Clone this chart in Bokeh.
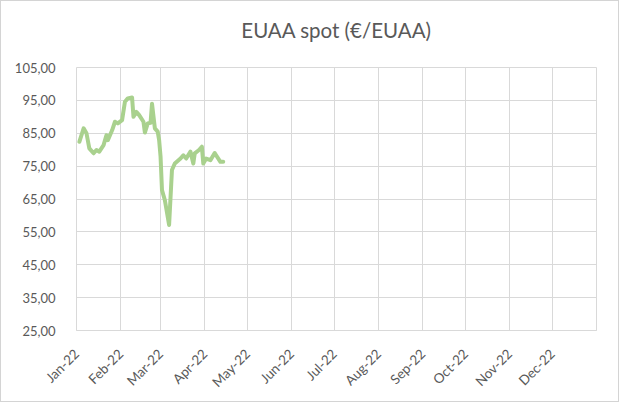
import math
from datetime import datetime
from bokeh.plotting import figure
from bokeh.models import FixedTicker, CustomJSTickFormatter, Range1d, ColumnDataSource
from bokeh.embed import file_html
from bokeh.resources import INLINE

# --- data ---
dates = ["2022-01-03", "2022-01-06", "2022-01-08", "2022-01-10", "2022-01-13", "2022-01-15",
         "2022-01-17", "2022-01-20", "2022-01-22", "2022-01-23", "2022-01-26", "2022-01-28",
         "2022-01-30", "2022-02-02", "2022-02-04", "2022-02-06", "2022-02-09", "2022-02-10",
         "2022-02-12", "2022-02-14", "2022-02-17", "2022-02-18", "2022-02-20", "2022-02-22",
         "2022-02-23", "2022-02-25", "2022-02-27", "2022-02-28", "2022-03-01", "2022-03-02",
         "2022-03-04", "2022-03-07", "2022-03-09", "2022-03-11", "2022-03-15", "2022-03-17",
         "2022-03-19", "2022-03-22", "2022-03-24", "2022-03-25", "2022-03-28", "2022-03-30",
         "2022-03-31", "2022-04-02", "2022-04-05", "2022-04-08", "2022-04-09", "2022-04-12",
         "2022-04-14"]
prices = [82.4, 86.5, 85.0, 80.4, 78.9, 79.9,
          79.4, 81.4, 84.4, 82.9, 85.9, 88.5,
          88.0, 89.0, 94.6, 95.6, 95.9, 90.0,
          91.5, 90.5, 88.5, 85.2, 88.0, 88.2,
          94.0, 86.5, 85.5, 82.9, 77.9, 67.7,
          64.7, 57.1, 73.8, 75.8, 77.3, 78.3,
          77.3, 79.4, 75.8, 78.9, 79.9, 80.9,
          75.8, 77.3, 76.8, 79.0, 78.3, 76.3,
          76.3]
month_starts = ["2022-01-01", "2022-02-01", "2022-03-01", "2022-04-01", "2022-05-01", "2022-06-01",
                "2022-07-01", "2022-08-01", "2022-09-01", "2022-10-01", "2022-11-01", "2022-12-01"]
month_labels = ["Jan-22", "Feb-22", "Mar-22", "Apr-22", "May-22", "Jun-22",
                "Jul-22", "Aug-22", "Sep-22", "Oct-22", "Nov-22", "Dec-22"]
y_ticks = [25, 35, 45, 55, 65, 75, 85, 95, 105]
title_text = "EUAA spot (\u20ac/EUAA)"


def ms(s):
    return datetime.strptime(s, "%Y-%m-%d").timestamp() * 1000.0


x_vals = [datetime.strptime(d, "%Y-%m-%d") for d in dates]
tick_ms = [ms(s) for s in month_starts]
label_map = {str(int(t)): lab for t, lab in zip(tick_ms, month_labels)}

src = ColumnDataSource(dict(x=x_vals, y=prices))

GRID = "#d9d9d9"
TXT = "#595959"
FONT = "Lato"

x0, x1 = ms("2022-01-01"), ms("2023-01-01")
y0, y1 = min(y_ticks), max(y_ticks)

p = figure(width=619, height=402, x_axis_type="datetime",
           x_range=Range1d(x0, x1), y_range=Range1d(y0, y1),
           output_backend="svg", toolbar_location=None, tools="",
           min_border_left=75, min_border_right=24, min_border_top=66, min_border_bottom=73)

p.styles = {"border": "1px solid #d4d4d4"}

# trailing blank line pushes the title text further above the plot frame
p.title.text = title_text + "\n "
p.title.align = "center"
p.title.vertical_align = "top"
p.title.text_font = FONT
p.title.text_font_size = "20.5px"
p.title.text_font_style = "normal"
p.title.text_color = TXT
p.title.standoff = 0

p.line("x", "y", source=src, line_color="#a9d18e", line_width=4, line_join="round", line_cap="round")

p.outline_line_color = GRID

# x axis
p.xaxis.ticker = FixedTicker(ticks=tick_ms)
p.xaxis.formatter = CustomJSTickFormatter(args=dict(m=label_map),
                                          code="return m[String(Math.round(tick))] || '';")
p.xaxis.major_label_orientation = math.pi / 4
p.xaxis.major_tick_line_color = None
p.xaxis.minor_tick_line_color = None
p.xaxis.axis_line_color = GRID
p.xaxis.major_label_text_font = FONT
p.xaxis.major_label_text_font_size = "13.5px"
p.xaxis.major_label_text_color = TXT
p.xaxis.major_label_standoff = 15

# y axis
p.yaxis.ticker = FixedTicker(ticks=y_ticks)
p.yaxis.formatter = CustomJSTickFormatter(code="return tick.toFixed(2).replace('.', ',');")
p.yaxis.major_tick_line_color = None
p.yaxis.minor_tick_line_color = None
p.yaxis.axis_line_color = None
p.yaxis.major_label_text_font = FONT
p.yaxis.major_label_text_font_size = "13px"
p.yaxis.major_label_text_color = TXT
p.yaxis.major_label_standoff = 15

p.xgrid.ticker = FixedTicker(ticks=tick_ms)
p.xgrid.grid_line_color = GRID
p.ygrid.grid_line_color = GRID
p.xgrid.grid_line_width = 1
p.ygrid.grid_line_width = 1

open("out.html", "w").write(file_html(p, INLINE))
